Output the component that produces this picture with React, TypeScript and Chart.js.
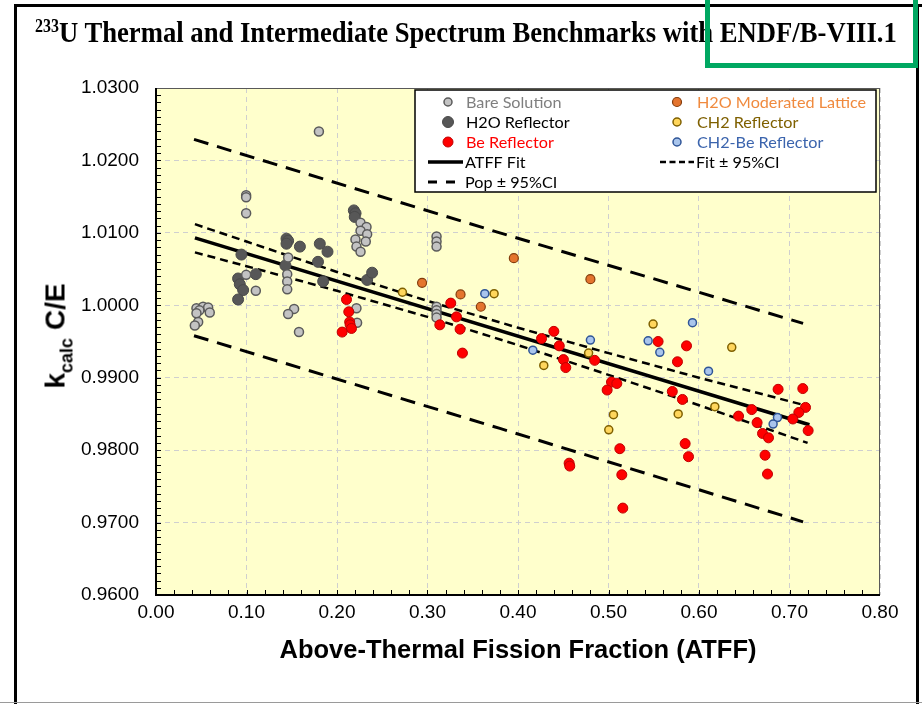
import React, { useEffect, useRef } from "react";
import { Chart, registerables } from "chart.js";

Chart.register(...registerables);

// ---------------- DATA ----------------
const BARE_SOLUTION: [number, number][] = [
  [0.0447, 0.9996], [0.052, 0.9998], [0.0576, 0.9997], [0.048, 0.9993], [0.0447, 0.9989],
  [0.0594, 0.999], [0.0466, 0.9977], [0.0429, 0.9972],
  [0.0996, 1.0152], [0.0996, 1.0149], [0.0996, 1.0127], [0.0996, 1.0042], [0.1103, 1.002],
  [0.146, 1.0066], [0.145, 1.0043], [0.145, 1.0033], [0.145, 1.0022], [0.1526, 0.9995],
  [0.146, 0.9988], [0.158, 0.9963],
  [0.18, 1.024],
  [0.226, 1.0114], [0.2326, 1.0108], [0.226, 1.0103], [0.2333, 1.0098], [0.2204, 1.0091],
  [0.2318, 1.0088], [0.2215, 1.0081], [0.226, 1.0074], [0.2215, 0.9996], [0.2222, 0.9976],
  [0.31, 1.0095], [0.31, 1.0088], [0.31, 1.0081], [0.31, 0.9998], [0.31, 0.9993],
  [0.31, 0.9988], [0.31, 0.9983],
];

const H2O_REFLECTOR: [number, number][] = [
  [0.0944, 1.007], [0.0907, 1.0037], [0.0926, 1.0029], [0.0963, 1.0021], [0.0907, 1.0008],
  [0.1103, 1.0043],
  [0.1442, 1.0092], [0.146, 1.0089], [0.1442, 1.0085], [0.159, 1.0081], [0.143, 1.0055],
  [0.181, 1.0085], [0.1895, 1.0074], [0.179, 1.006], [0.1847, 1.0033],
  [0.2186, 1.0131], [0.2205, 1.0127], [0.2196, 1.0122],
  [0.2333, 1.0035], [0.2388, 1.0045],
];

const BE_REFLECTOR: [number, number][] = [
  [0.2105, 1.0008], [0.213, 0.9991], [0.214, 0.9977], [0.2145, 0.9973], [0.216, 0.9968],
  [0.2057, 0.9963],
  [0.3257, 1.0003], [0.332, 0.9984], [0.3136, 0.9973], [0.336, 0.9967], [0.3386, 0.9934],
  [0.426, 0.9954], [0.4396, 0.9964], [0.4456, 0.9944], [0.4502, 0.9925], [0.4528, 0.9914],
  [0.4847, 0.9924], [0.4565, 0.9782], [0.4572, 0.9778],
  [0.5033, 0.9894], [0.5092, 0.9892], [0.4985, 0.9883], [0.5125, 0.9802], [0.5147, 0.9766],
  [0.5158, 0.972],
  [0.5548, 0.995], [0.5862, 0.9944], [0.5762, 0.9922], [0.5705, 0.9881], [0.5817, 0.987],
  [0.5847, 0.9809], [0.5884, 0.9791],
  [0.6437, 0.9847], [0.6583, 0.9856], [0.6642, 0.9838], [0.6702, 0.9823], [0.6768, 0.9817],
  [0.673, 0.9793], [0.6757, 0.9767],
  [0.6874, 0.9884], [0.7147, 0.9885], [0.7177, 0.9859], [0.7103, 0.9852], [0.7037, 0.9843],
  [0.7206, 0.9827],
];

const H2O_LATTICE: [number, number][] = [
  [0.294, 1.0031], [0.3365, 1.0015], [0.3589, 0.9998], [0.3954, 1.0065], [0.48, 1.0036],
];

const CH2_REFLECTOR: [number, number][] = [
  [0.2723, 1.0018], [0.3736, 1.0016], [0.4285, 0.9917], [0.478, 0.9934], [0.5055, 0.9849],
  [0.5003, 0.9828], [0.5493, 0.9974], [0.577, 0.985], [0.6175, 0.986], [0.6362, 0.9942],
];

const CH2_BE_REFLECTOR: [number, number][] = [
  [0.3633, 1.0016], [0.4164, 0.9938], [0.48, 0.9952], [0.5438, 0.9951], [0.5567, 0.9935],
  [0.5928, 0.9976], [0.6105, 0.9909], [0.6867, 0.9845], [0.6819, 0.9836],
];

const FIT_X = [0.043, 0.722];
const FIT_Y = [1.0093, 0.9835];

const CI_X = [0.043, 0.1, 0.2, 0.3, 0.4, 0.5, 0.6, 0.72];
const CI_UPPER = [1.0112, 1.0088, 1.0046, 1.0006, 0.9969, 0.9934, 0.99, 0.9861];
const CI_LOWER = [1.0073, 1.0054, 1.002, 0.9984, 0.9945, 0.9904, 0.9862, 0.981];

const POP_X = [0.042, 0.38, 0.715];
const POP_UPPER = [1.0229, 1.01, 0.9975];
const POP_LOWER = [0.9958, 0.983, 0.9701];

const X_MIN = 0, X_MAX = 0.8, X_STEP = 0.1, X_MINOR = 0.02;
const Y_MIN = 0.96, Y_MAX = 1.03, Y_STEP = 0.01, Y_MINOR = 0.001;

const TITLE_SUP = "233";
const TITLE_MAIN = "U Thermal and Intermediate Spectrum Benchmarks with ENDF/B-VIII.1";
const X_TITLE = "Above-Thermal Fission Fraction (ATFF)";

// ---------------- helpers ----------------
const pts = (arr: [number, number][]) => arr.map(([x, y]) => ({ x, y }));
const zip = (xs: number[], ys: number[]) => xs.map((x, i) => ({ x, y: ys[i] }));

const STYLE = {
  bare: { fill: "#C3C3C3", stroke: "#5A5A5A", text: "#7F7F7F" },
  h2o: { fill: "#575757", stroke: "#4A4A4A", text: "#000000" },
  be: { fill: "#FF0000", stroke: "#C00000", text: "#FF0000" },
  lat: { fill: "#E4742E", stroke: "#843C0C", text: "#F08A3E" },
  ch2: { fill: "#FFD65C", stroke: "#7F6000", text: "#7F6000" },
  ch2be: { fill: "#A9C5EC", stroke: "#2F5597", text: "#3B64AD" },
};

function marker(ctx: CanvasRenderingContext2D, x: number, y: number, r: number, fill: string, stroke: string, lw: number) {
  ctx.beginPath();
  ctx.arc(x, y, r, 0, Math.PI * 2);
  ctx.fillStyle = fill;
  ctx.fill();
  ctx.lineWidth = lw;
  ctx.strokeStyle = stroke;
  ctx.stroke();
}

const framePlugin = {
  id: "frame",
  beforeDraw(chart: any) {
    const { ctx, chartArea: a } = chart;
    ctx.save();
    ctx.fillStyle = "#FFFFCC";
    ctx.fillRect(a.left, a.top, a.right - a.left, a.bottom - a.top);
    ctx.restore();
  },
  beforeDatasetsDraw(chart: any) {
    const { ctx, chartArea: a, scales } = chart;
    const xs = scales.x, ys = scales.y;
    ctx.save();
    ctx.strokeStyle = "#595959";
    ctx.lineWidth = 1;
    ctx.strokeRect(a.left + 0.5, a.top + 0.5, a.right - a.left - 1, a.bottom - a.top - 1);
    ctx.strokeStyle = "#000";
    ctx.lineWidth = 1;
    const ny = Math.round((Y_MAX - Y_MIN) / Y_MINOR);
    for (let i = 1; i < ny; i++) {
      const py = Math.round(ys.getPixelForValue(Y_MIN + i * Y_MINOR)) + 0.5;
      ctx.beginPath();
      ctx.moveTo(a.left, py);
      ctx.lineTo(a.left + 5, py);
      ctx.stroke();
    }
    const nx = Math.round((X_MAX - X_MIN) / X_MINOR);
    for (let i = 1; i < nx; i++) {
      const px = Math.round(xs.getPixelForValue(X_MIN + i * X_MINOR)) + 0.5;
      ctx.beginPath();
      ctx.moveTo(px, a.bottom);
      ctx.lineTo(px, a.bottom - 5);
      ctx.stroke();
    }
    ctx.lineWidth = 2;
    ctx.beginPath();
    ctx.moveTo(a.left, a.top);
    ctx.lineTo(a.left, a.bottom);
    ctx.lineTo(a.right, a.bottom);
    ctx.stroke();
    ctx.restore();
  },
};

const legendPlugin = {
  id: "customLegend",
  afterDraw(chart: any) {
    const { ctx, chartArea: a } = chart;
    const L = a.left + 259, T = a.top + 2, R = a.right - 4, B = a.top + 104;
    ctx.save();
    ctx.fillStyle = "#fff";
    ctx.fillRect(L, T, R - L, B - T);
    ctx.strokeStyle = "#000";
    ctx.lineWidth = 1.5;
    ctx.strokeRect(L, T, R - L, B - T);
    ctx.font = '16.2px "Lato", "Open Sans", sans-serif';
    ctx.textBaseline = "middle";
    ctx.textAlign = "left";
    const row = (i: number) => T + 12 + 20 * i;
    const c1m = L + 33, c1t = L + 51, c2m = L + 262, c2t = L + 282;
    const items = [
      { x: c1m, tx: c1t, r: 4, lw: 1.5, s: STYLE.bare, label: "Bare Solution", i: 0 },
      { x: c1m, tx: c1t, r: 5.5, lw: 1, s: STYLE.h2o, label: "H2O Reflector", i: 1 },
      { x: c1m, tx: c1t, r: 5, lw: 1, s: STYLE.be, label: "Be Reflector", i: 2 },
      { x: c2m, tx: c2t, r: 4.5, lw: 1.2, s: STYLE.lat, label: "H2O Moderated Lattice", i: 0 },
      { x: c2m, tx: c2t, r: 4, lw: 1.5, s: STYLE.ch2, label: "CH2 Reflector", i: 1 },
      { x: c2m, tx: c2t, r: 4, lw: 1.5, s: STYLE.ch2be, label: "CH2-Be Reflector", i: 2 },
    ];
    for (const it of items) {
      marker(ctx, it.x, row(it.i), it.r, it.s.fill, it.s.stroke, it.lw);
      ctx.fillStyle = it.s.text;
      ctx.fillText(it.label, it.tx, row(it.i) + 1);
    }
    ctx.strokeStyle = "#000";
    ctx.lineWidth = 3.5;
    ctx.setLineDash([]);
    ctx.beginPath();
    ctx.moveTo(L + 13, row(3));
    ctx.lineTo(L + 48, row(3));
    ctx.stroke();
    ctx.fillStyle = "#000";
    ctx.fillText("ATFF Fit", L + 50, row(3) + 1);
    ctx.lineWidth = 3;
    ctx.setLineDash([9, 9]);
    ctx.beginPath();
    ctx.moveTo(L + 13, row(4));
    ctx.lineTo(L + 40, row(4));
    ctx.stroke();
    ctx.fillText("Pop \u00B1 95%CI", L + 50, row(4) + 1);
    ctx.lineWidth = 2.5;
    ctx.setLineDash([6, 3.5]);
    ctx.beginPath();
    ctx.moveTo(L + 245, row(3));
    ctx.lineTo(L + 279, row(3));
    ctx.stroke();
    ctx.setLineDash([]);
    ctx.fillText("Fit \u00B1 95%CI", L + 281, row(3) + 1);
    ctx.restore();
  },
};

function scatterSet(label: string, data: [number, number][], s: { fill: string; stroke: string }, r: number, lw: number, order: number) {
  return {
    label,
    data: pts(data),
    showLine: false,
    pointRadius: r,
    pointHoverRadius: r,
    pointBackgroundColor: s.fill,
    pointBorderColor: s.stroke,
    pointBorderWidth: lw,
    order,
  };
}

function lineSet(label: string, data: { x: number; y: number }[], width: number, dash: number[], order: number) {
  return {
    label,
    data,
    showLine: true,
    pointRadius: 0,
    pointHoverRadius: 0,
    borderColor: "#000",
    borderWidth: width,
    borderDash: dash,
    borderCapStyle: "butt",
    tension: 0,
    fill: false,
    order,
  };
}

export default function App() {
  const canvasRef = useRef<HTMLCanvasElement>(null);
  const titleRef = useRef<HTMLDivElement>(null);

  useEffect(() => {
    const t = titleRef.current;
    if (t) {
      const w = t.offsetWidth;
      if (w > 0) t.style.transform = `scaleX(${862 / w})`;
    }
    const chart = new Chart(canvasRef.current!, {
      type: "scatter",
      data: {
        datasets: [
          scatterSet("CH2-Be Reflector", CH2_BE_REFLECTOR, STYLE.ch2be, 4, 1.5, 1),
          scatterSet("CH2 Reflector", CH2_REFLECTOR, STYLE.ch2, 4, 1.5, 2),
          scatterSet("H2O Moderated Lattice", H2O_LATTICE, STYLE.lat, 4.5, 1.2, 3),
          scatterSet("Be Reflector", BE_REFLECTOR, STYLE.be, 5, 1, 4),
          scatterSet("Bare Solution", BARE_SOLUTION, STYLE.bare, 4.5, 1.5, 5),
          scatterSet("H2O Reflector", H2O_REFLECTOR, STYLE.h2o, 5.5, 1, 6),
          lineSet("ATFF Fit", zip(FIT_X, FIT_Y), 3.5, [], 10),
          lineSet("Fit + 95%CI", zip(CI_X, CI_UPPER), 2.5, [8, 5], 11),
          lineSet("Fit - 95%CI", zip(CI_X, CI_LOWER), 2.5, [8, 5], 12),
          lineSet("Pop + 95%CI", zip(POP_X, POP_UPPER), 3, [15, 9], 13),
          lineSet("Pop - 95%CI", zip(POP_X, POP_LOWER), 3, [15, 9], 14),
        ] as any,
      },
      options: {
        animation: false,
        responsive: false,
        devicePixelRatio: 1,
        events: [],
        layout: { padding: { left: 0, right: 42, top: 88, bottom: 0 } },
        plugins: { legend: { display: false }, tooltip: { enabled: false } },
        scales: {
          x: {
            type: "linear",
            min: X_MIN,
            max: X_MAX,
            afterFit: (s: any) => { s.height = 109; },
            ticks: {
              stepSize: X_STEP,
              callback: (v: any) => Number(v).toFixed(2),
              font: { family: '"Liberation Sans", Arial, sans-serif', size: 19 },
              color: "#000",
              padding: 6,
            },
            grid: { color: "#CFCFCF", lineWidth: 1, drawTicks: false },
            border: { display: false, dash: [5, 4] },
            title: {
              display: true,
              text: X_TITLE,
              color: "#000",
              font: { family: '"Liberation Sans", Arial, sans-serif', size: 25.5, weight: "bold" },
              padding: { top: 0, bottom: 38 },
            },
          },
          y: {
            type: "linear",
            min: Y_MIN,
            max: Y_MAX,
            afterFit: (s: any) => { s.width = 156; },
            ticks: {
              stepSize: Y_STEP,
              callback: (v: any) => Number(v).toFixed(4),
              font: { family: '"Liberation Sans", Arial, sans-serif', size: 19 },
              color: "#000",
              padding: 17,
            },
            grid: { color: "#CFCFCF", lineWidth: 1, drawTicks: false },
            border: { display: false, dash: [5, 4] },
          },
        },
      },
      plugins: [framePlugin, legendPlugin],
    } as any);
    return () => chart.destroy();
  }, []);

  return (
    <div style={{ position: "fixed", left: 0, top: 0, width: 922, height: 704, background: "#fff", overflow: "hidden" }}>
      <canvas ref={canvasRef} width={922} height={704} style={{ position: "absolute", left: 0, top: 0 }} />
      <div style={{ position: "absolute", left: 14, top: 4, width: 908, height: 2.5, background: "#000" }} />
      <div style={{ position: "absolute", left: 14, top: 4, width: 2.5, height: 700, background: "#000" }} />
      <div style={{ position: "absolute", left: 916, top: 4, width: 2.5, height: 700, background: "#000" }} />
      <div style={{ position: "absolute", left: 0, top: 702, width: 922, height: 1, background: "#9A9A9A" }} />
      <div
        ref={titleRef}
        style={{
          position: "absolute",
          left: 35,
          top: 14,
          whiteSpace: "nowrap",
          transformOrigin: "0 0",
          fontFamily: '"Liberation Serif", "Times New Roman", serif',
          fontWeight: "bold",
          fontSize: 30,
          lineHeight: "36px",
          color: "#000",
        }}
      >
        <span style={{ fontSize: 18, position: "relative", top: -10 }}>{TITLE_SUP}</span>
        {TITLE_MAIN}
      </div>
      <div
        style={{
          position: "absolute",
          left: 57,
          top: 336,
          transform: "translate(-50%, -50%) rotate(-90deg)",
          whiteSpace: "nowrap",
          fontFamily: '"Liberation Sans", Arial, sans-serif',
          fontWeight: "bold",
          fontSize: 28,
          lineHeight: "32px",
          color: "#000",
        }}
      >
        k<span style={{ fontSize: 18, position: "relative", top: 8 }}>calc</span> C/E
      </div>
      <div
        style={{
          position: "absolute",
          left: 705,
          top: -6,
          width: 213,
          height: 74,
          boxSizing: "border-box",
          border: "5px solid #00A862",
        }}
      />
    </div>
  );
}
